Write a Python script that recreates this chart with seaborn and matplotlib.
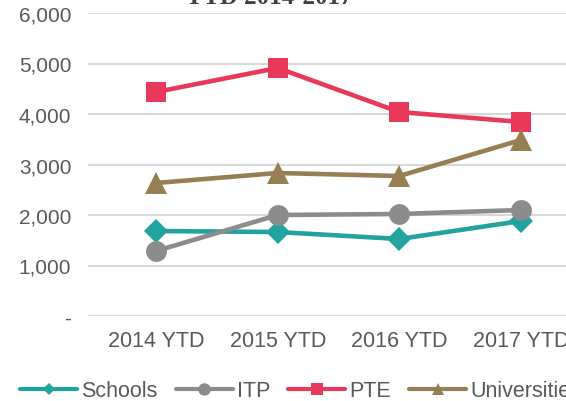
import matplotlib
matplotlib.use("Agg")
import matplotlib.pyplot as plt
import matplotlib.ticker as mticker
from matplotlib.lines import Line2D
import pandas as pd
import seaborn as sns

# ─── DATA ────────────────────────────────────────────────
years = ['2014 YTD', '2015 YTD', '2016 YTD', '2017 YTD']
schools = [1683, 1663, 1525, 1881]
itp = [1287, 2000, 2020, 2099]
pte = [4436, 4911, 4040, 3842]
universities = [2634, 2832, 2772, 3485]

series_names = ['Schools', 'ITP', 'PTE', 'Universities']
colors = {'Schools': '#21A3A0', 'ITP': '#8C8C8C', 'PTE': '#E8395A', 'Universities': '#967F52'}
markers = {'Schools': 'D', 'ITP': 'o', 'PTE': 's', 'Universities': '^'}
msizes = {'Schools': 12, 'ITP': 15, 'PTE': 14.5, 'Universities': 16}
leg_msizes = {'Schools': 6, 'ITP': 9, 'PTE': 9, 'Universities': 8.5}

df = pd.DataFrame({
    'year': years * 4,
    'value': schools + itp + pte + universities,
    'sector': [s for s in series_names for _ in years],
})

# ─── PLOT ────────────────────────────────────────────────
sns.set_style('white')
plt.rcParams['font.family'] = ['Liberation Sans', 'DejaVu Sans']

fig = plt.figure(figsize=(5.66, 4.02), dpi=100)
ax = fig.add_axes([88 / 566, 85 / 402, (589 - 88) / 566, (317 - 14) / 402])

for name in series_names:
    sub = df[df['sector'] == name]
    sns.lineplot(data=sub, x='year', y='value', ax=ax, color=colors[name],
                 marker=markers[name], markersize=msizes[name], markeredgewidth=0,
                 linewidth=3.3, label=name, legend=False, zorder=3)

ax.set_ylim(0, 6000)
ax.set_xlim(-0.56, 3.56)
ax.set_yticks(range(0, 6001, 1000))
ax.yaxis.set_major_formatter(mticker.FuncFormatter(lambda v, p: '-' if v == 0 else f'{int(v):,}'))
ax.grid(axis='y', color='#D9D9D9', linewidth=1.5)
ax.grid(axis='x', visible=False)
for sp in ax.spines.values():
    sp.set_visible(False)
ax.tick_params(axis='both', length=0, labelcolor='#595959')
ax.tick_params(axis='y', pad=12, labelsize=15)
ax.tick_params(axis='x', pad=10, labelsize=15.5)
ax.set_xlabel('')
ax.set_ylabel('')

fig.text(0.474, 1.005, 'YTD 2014-2017', ha='center', va='center', fontsize=18,
         fontweight='bold', color='#404040', family=['Liberation Serif', 'DejaVu Serif'])

handles = [Line2D([], [], color=colors[n], marker=markers[n], linewidth=3,
                  markersize=leg_msizes[n], markeredgewidth=0) for n in series_names]
fig.legend(handles, series_names, loc='center left', bbox_to_anchor=(20 / 566, 10 / 402),
           ncol=4, frameon=False, fontsize=15.5, handlelength=2.65, handletextpad=0.19,
           columnspacing=0.84, labelcolor='#595959', borderaxespad=0, borderpad=0)

fig.savefig('out.png', dpi=100)
